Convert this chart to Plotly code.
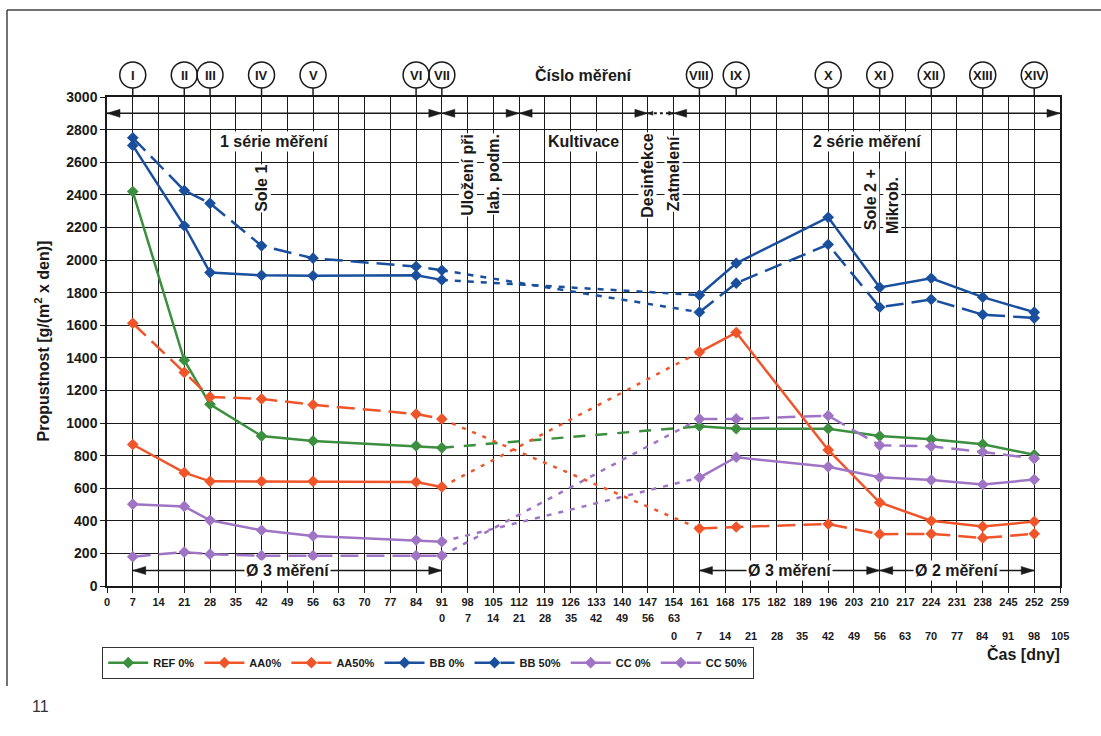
import plotly.graph_objects as go

# ---- measurement days -------------------------------------------------------
days_s1 = [7, 21, 28, 42, 56, 84, 91]          # 1st measurement series
days_s2 = [161, 171, 196, 210, 224, 238, 252]  # 2nd measurement series

# ---- permeability values [g/(m2 x den)] -------------------------------------
ref0_s1 = [2420, 1385, 1115, 920, 890, 860, 848]
ref0_s2 = [980, 965, 965, 920, 900, 870, 805]
aa0_s1 = [868, 695, 642, 642, 642, 638, 608]
aa0_s2 = [1435, 1555, 835, 512, 400, 365, 395]
aa50_s1 = [1612, 1310, 1160, 1148, 1112, 1055, 1025]
aa50_s2 = [352, 362, 380, 318, 320, 295, 320]
bb0_s1 = [2703, 2210, 1923, 1906, 1903, 1906, 1878]
bb0_s2 = [1785, 1980, 2262, 1832, 1888, 1772, 1680]
bb50_s1 = [2750, 2426, 2348, 2087, 2011, 1960, 1937]
bb50_s2 = [1680, 1858, 2095, 1710, 1758, 1665, 1644]
cc0_s1 = [502, 488, 403, 342, 307, 282, 272]
cc0_s2 = [665, 790, 731, 667, 650, 622, 653]
cc50_s1 = [180, 208, 195, 186, 186, 186, 186]
cc50_s2 = [1025, 1025, 1045, 863, 857, 822, 782]

series_names = ["REF 0%", "AA0%", "AA50%", "BB 0%", "BB 50%", "CC 0%", "CC 50%"]

# ---- axis ticks and labels --------------------------------------------------
x_ticks = list(range(0, 260, 7))
y_ticks = list(range(0, 3001, 200))
row2_days = list(range(91, 155, 7))    # days counted from storage start
row3_days = list(range(154, 260, 7))   # days counted from sealing

numerals = ["I", "II", "III", "IV", "V", "VI", "VII",
            "VIII", "IX", "X", "XI", "XII", "XIII", "XIV"]
numeral_days = [7, 21, 28, 42, 56, 84, 91, 161, 171, 196, 210, 224, 238, 252]

GREEN = "#3b8f3e"
RED = "#f0552a"
BLUE = "#1a4f9e"
PURPLE = "#a074c4"
INK = "#1a1a1a"
FONT = "Liberation Sans, Arial, sans-serif"

# plot-area geometry in pixels (used for paper-coordinate placement)
W, H = 1101, 736
PL, PT, PW, PH = 107, 97, 953, 489


def px_x(px):
    return (px - PL) / PW


def px_y(py):
    return (PT + PH - py) / PH


styles = [
    # values s1, values s2, colour, main dash, gap-connector dash
    (ref0_s1, ref0_s2, GREEN, "solid", "12px,10px"),
    (aa0_s1, aa0_s2, RED, "solid", "4px,7px"),
    (aa50_s1, aa50_s2, RED, "18px,8px", "4px,7px"),
    (bb0_s1, bb0_s2, BLUE, "solid", "6px,7px"),
    (bb50_s1, bb50_s2, BLUE, "18px,8px", "6px,7px"),
    (cc0_s1, cc0_s2, PURPLE, "solid", "5px,7px"),
    (cc50_s1, cc50_s2, PURPLE, "18px,8px", "5px,7px"),
]

fig = go.Figure()

# dotted connectors across the storage / cultivation gap
for (v1, v2, col, dash, cdash) in styles:
    fig.add_trace(go.Scatter(
        x=[days_s1[-1], days_s2[0]], y=[v1[-1], v2[0]],
        mode="lines", line=dict(color=col, width=2.5, dash=cdash),
        showlegend=False, hoverinfo="skip"))

# measured series
for name, (v1, v2, col, dash, cdash) in zip(series_names, styles):
    fig.add_trace(go.Scatter(
        x=days_s1 + [None] + days_s2, y=v1 + [None] + v2,
        mode="lines+markers", name=name, connectgaps=False,
        line=dict(color=col, width=2.5, dash=dash),
        marker=dict(symbol="diamond", size=9, color=col)))

shapes = []
annotations = []


def hline(x0, x1, y, dash="solid", width=1.5):
    shapes.append(dict(type="line", xref="x", yref="y", x0=x0, x1=x1, y0=y, y1=y,
                       line=dict(color=INK, width=width, dash=dash)))


def head(x, y, direction, length=13, half=4):
    # filled arrowhead with its tip at (x, y); direction +1 right, -1 left
    L = -direction * length
    shapes.append(dict(type="path", xref="x", yref="y",
                       xsizemode="pixel", ysizemode="pixel",
                       xanchor=x, yanchor=y,
                       path=f"M0,0 L{L},{half} L{L},{-half} Z",
                       fillcolor=INK, line=dict(color=INK, width=0.5)))


def double_arrow(a, b, y, **kw):
    hline(a, b, y)
    head(a, y, -1, **kw)
    head(b, y, +1, **kw)


# upper timeline
TOP_Y = 2900
for a, b in [(0, 91), (91, 112), (112, 147), (154, 259)]:
    double_arrow(a, b, TOP_Y)
hline(147, 154, TOP_Y, dash="dot", width=2)
head(147, TOP_Y, -1, length=5, half=2)
head(154, TOP_Y, +1, length=5, half=2)

# averaging ranges at the bottom
BOT_Y = 95
for a, b, label in [(7, 91, "Ø 3 měření"), (161, 210, "Ø 3 měření"),
                    (210, 252, "Ø 2 měření")]:
    double_arrow(a, b, BOT_Y)
    annotations.append(dict(x=(a + b) / 2, y=BOT_Y, xref="x", yref="y", text=label,
                            showarrow=False, bgcolor="white", borderpad=1,
                            font=dict(family=FONT, size=16, color=INK, weight="bold")))

# horizontal period labels
for x, label in [(45.5, "1 série měření"), (129.5, "Kultivace"), (206.5, "2 série měření")]:
    annotations.append(dict(x=x, y=2730, xref="x", yref="y", text=label, showarrow=False,
                            bgcolor="white", borderpad=1,
                            font=dict(family=FONT, size=16, color=INK, weight="bold")))

# vertical event labels
for x, y, label in [(42, 2440, "Sole 1"), (98, 2520, "Uložení při"), (105, 2530, "lab. podm."),
                    (147, 2522, "Desinfekce"), (154, 2530, "Zatmelení"),
                    (207.5, 2370, "Sole 2 +"), (213.3, 2337, "Mikrob.")]:
    annotations.append(dict(x=x, y=y, xref="x", yref="y", text=label, showarrow=False,
                            textangle=-90, bgcolor="white", borderpad=0,
                            font=dict(family=FONT, size=16, color=INK, weight="bold")))

# measurement numbers in circles above the plot
for d, num in zip(numeral_days, numerals):
    shapes.append(dict(type="circle", xref="x", yref="paper",
                       xsizemode="pixel", ysizemode="pixel", xanchor=d, yanchor=1,
                       x0=-13, x1=13, y0=9, y1=35, line=dict(color=INK, width=1.5)))
    shapes.append(dict(type="line", xref="x", yref="paper",
                       xsizemode="pixel", ysizemode="pixel", xanchor=d, yanchor=1,
                       x0=0, x1=0, y0=0, y1=9, line=dict(color=INK, width=1.5)))
    annotations.append(dict(x=d, y=1, xref="x", yref="paper", yshift=22, text=num,
                            showarrow=False, yanchor="middle",
                            font=dict(family=FONT, size=13, color=INK, weight="bold")))

annotations.append(dict(x=129.5, y=1, xref="x", yref="paper", yshift=22, text="Číslo měření",
                        showarrow=False, yanchor="middle",
                        font=dict(family=FONT, size=16, color=INK, weight="bold")))

# second and third rows of the day scale
for d in row2_days:
    annotations.append(dict(x=d, y=0, xref="x", yref="paper", yshift=-32, text=str(d - 91),
                            showarrow=False, yanchor="middle",
                            font=dict(family=FONT, size=11, color=INK, weight="bold")))
for d in row3_days:
    annotations.append(dict(x=d, y=0, xref="x", yref="paper", yshift=-50, text=str(d - 154),
                            showarrow=False, yanchor="middle",
                            font=dict(family=FONT, size=11, color=INK, weight="bold")))

annotations.append(dict(x=px_x(1062), y=0, xref="paper", yref="paper", yshift=-68,
                        text="Čas [dny]", showarrow=False, xanchor="right", yanchor="middle",
                        font=dict(family=FONT, size=16, color=INK, weight="bold")))

annotations.append(dict(x=px_x(42), y=0.5, xref="paper", yref="paper",
                        text="Propustnost [g/(m<sup>2</sup> x den)]", textangle=-90,
                        showarrow=False, xanchor="center", yanchor="middle",
                        font=dict(family=FONT, size=16, color=INK, weight="bold")))

annotations.append(dict(x=px_x(40), y=px_y(706), xref="paper", yref="paper", text="11",
                        showarrow=False, xanchor="center", yanchor="middle",
                        font=dict(family=FONT, size=16, color="#333333")))

# page frame
shapes.append(dict(type="line", xref="paper", yref="paper", x0=px_x(7), x1=px_x(1101),
                   y0=px_y(10), y1=px_y(10), line=dict(color="#444444", width=1.5)))
shapes.append(dict(type="line", xref="paper", yref="paper", x0=px_x(7), x1=px_x(7),
                   y0=px_y(10), y1=px_y(686), line=dict(color="#444444", width=1.5)))

fig.update_layout(
    width=W, height=H, autosize=False,
    margin=dict(l=PL, r=W - PL - PW, t=PT, b=H - PT - PH),
    paper_bgcolor="white", plot_bgcolor="white",
    font=dict(family=FONT, color=INK),
    shapes=shapes, annotations=annotations,
    showlegend=True,
    legend=dict(orientation="h", x=px_x(102), y=px_y(647), xanchor="left", yanchor="top",
                bordercolor="#333333", borderwidth=1.2, itemwidth=40,
                font=dict(family=FONT, size=11, color=INK, weight="bold"),
                bgcolor="white"),
    xaxis=dict(range=[0, 259], tickvals=x_ticks, ticktext=[str(v) for v in x_ticks],
               showgrid=True, gridcolor=INK, gridwidth=1.2, zeroline=False,
               showline=True, linecolor=INK, linewidth=1.5, mirror=True,
               ticks="outside", ticklen=5, tickcolor=INK, tickwidth=1.2,
               tickfont=dict(family=FONT, size=11, color=INK, weight="bold")),
    yaxis=dict(range=[0, 3000], tickvals=y_ticks,
               showgrid=True, gridcolor=INK, gridwidth=1.2, zeroline=False,
               showline=True, linecolor=INK, linewidth=1.5, mirror=True,
               ticks="outside", ticklen=5, tickcolor=INK, tickwidth=1.2,
               tickfont=dict(family=FONT, size=14, color=INK, weight="bold")),
)

fig.write_html("out.html")
